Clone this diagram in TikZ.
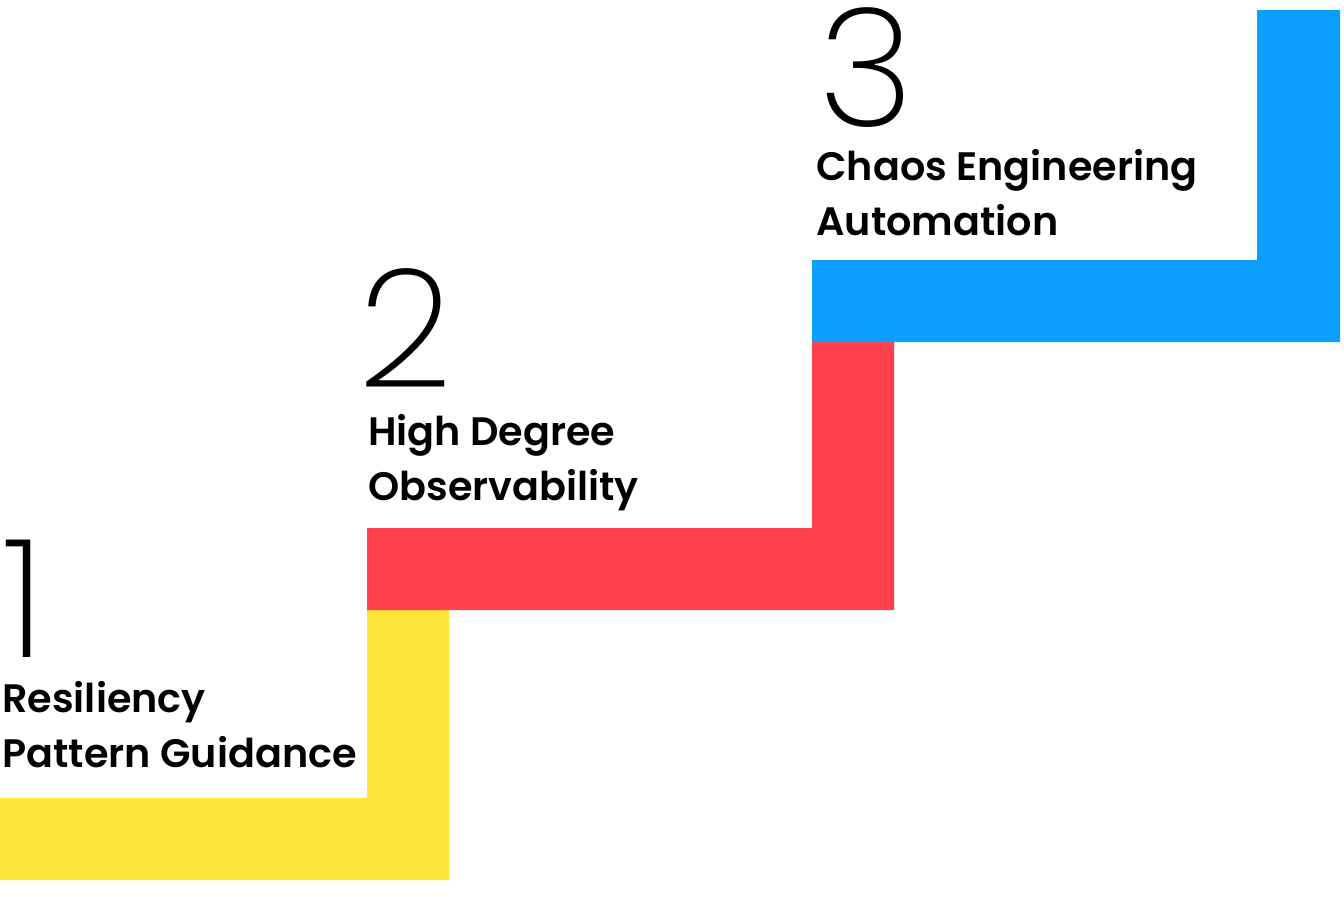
\documentclass[tikz,border=0pt]{standalone}
\usepackage{fontspec}
\setmainfont{Poppins}
\newfontfamily\numfont{Poppins}[UprightFont=* ExtraLight]
\newfontfamily\labfont{Poppins}[UprightFont=* SemiBold]
\definecolor{gradoY}{RGB}{254,229,59}
\definecolor{gradoR}{RGB}{255,65,77}
\definecolor{gradoB}{RGB}{10,159,255}
\begin{document}
\begin{tikzpicture}[x=0.02cm, y=-0.02cm,
    numero/.style={anchor=base west, inner sep=0pt, text depth=0pt, font=\numfont\fontsize{94}{94}\selectfont},
    titolo/.style={anchor=base west, inner sep=0pt, align=left, font=\labfont\fontsize{22.6}{31}\selectfont}]

        \useasboundingbox (0, 0) rectangle (1344, 896);

        % Gradino 1 (giallo)
        \fill[gradoY] (0, 798) -- (367, 798) -- (367, 610) -- (449, 610) -- (449, 880) -- (0, 880) -- cycle;

        % Gradino 2 (rosso)
        \fill[gradoR] (367, 528) -- (812, 528) -- (812, 342) -- (894, 342) -- (894, 610) -- (367, 610) -- cycle;

        % Gradino 3 (azzurro)
        \fill[gradoB] (812, 260) -- (1257, 260) -- (1257, 10) -- (1340, 10) -- (1340, 342) -- (812, 342) -- cycle;

        % Numeri
        \node[numero] (n1) at (2, 657) {1};
        \node[numero] (n2) at (358, 387) {2};
        \node[numero] (n3) at (818, 126) {3};

        % Etichette (base = ultima riga)
        \node[titolo] (t1) at (2, 767) {Resiliency\\Pattern Guidance};
        \node[titolo] (t2) at (368, 500) {High Degree\\Observability};
        \node[titolo] (t3) at (816, 235) {Chaos Engineering\\Automation};

    \end{tikzpicture}
\end{document}
